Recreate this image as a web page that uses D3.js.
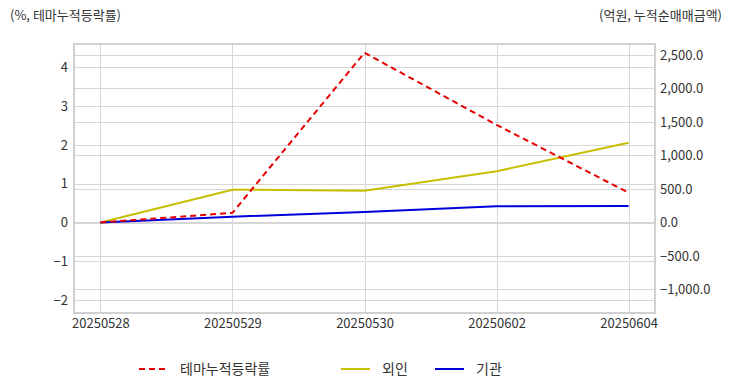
<!DOCTYPE html>
<html><head><meta charset="utf-8">
<script src="https://cdn.jsdelivr.net/npm/d3@7"></script>
<style>
html,body{margin:0;padding:0;background:#fff;}
text{font-family:"Noto Sans CJK KR","Noto Sans",sans-serif;}
</style></head>
<body><svg id="c" width="732" height="392"></svg>
<script>
const categories = ["20250528","20250529","20250530","20250602","20250604"];
const themeRate = [0, 0.25, 4.38, 2.52, 0.77];
const foreign = [0, 490, 475, 764, 1191];
const institution = [0, 87, 157, 242, 246];
const leftTicks = [-2,-1,0,1,2,3,4];
const rightTicks = [-1000,-500,0,500,1000,1500,2000,2500];
const seriesNames = ["테마누적등락률","외인","기관"];

const svg = d3.select("#c");
const L = 74, R = 655, T = 44, B = 313;
const x = d3.scalePoint().domain(categories).range([L, R]).padding(0.2);
const yL = d3.scaleLinear().domain([-2.335, 4.606]).range([B, T]);
const yR = d3.scaleLinear().domain([-1351, 2664]).range([B, T]);

const grid = svg.append("g").attr("stroke", "#d6d6d6").attr("stroke-width", 1);
leftTicks.forEach(v => grid.append("line").attr("x1", L).attr("x2", R).attr("y1", Math.round(yL(v))+0.5).attr("y2", Math.round(yL(v))+0.5));
rightTicks.forEach(v => grid.append("line").attr("x1", L).attr("x2", R).attr("y1", Math.round(yR(v))+0.5).attr("y2", Math.round(yR(v))+0.5));
categories.forEach(c => grid.append("line").attr("y1", T).attr("y2", B).attr("x1", Math.round(x(c))+0.5).attr("x2", Math.round(x(c))+0.5));
svg.append("rect").attr("x", L).attr("y", T).attr("width", R-L).attr("height", B-T)
  .attr("fill", "none").attr("stroke", "#d0d0d0").attr("stroke-width", 2);

const axL = svg.append("g").attr("transform", `translate(${L},0)`)
  .call(d3.axisLeft(yL).tickValues(leftTicks).tickSize(0).tickPadding(6).tickFormat(d3.format("d")));
const axR = svg.append("g").attr("transform", `translate(${R},0)`)
  .call(d3.axisRight(yR).tickValues(rightTicks).tickSize(0).tickPadding(5).tickFormat(d3.format(",.1f")));
const axB = svg.append("g").attr("transform", `translate(0,${B})`)
  .call(d3.axisBottom(x).tickSize(0).tickPadding(6));
[axL, axR, axB].forEach(a => {
  a.select(".domain").remove();
  a.selectAll("text").attr("font-size", 13).attr("fill", "#333")
    .attr("font-family", '"Noto Sans CJK KR","Noto Sans",sans-serif');
});

const lineL = d3.line().x((d,i) => x(categories[i])).y(d => yL(d));
const lineR = d3.line().x((d,i) => x(categories[i])).y(d => yR(d));
svg.append("path").attr("d", lineR(foreign)).attr("fill","none").attr("stroke","#c8be00").attr("stroke-width",2);
svg.append("path").attr("d", lineR(institution)).attr("fill","none").attr("stroke","#0000dd").attr("stroke-width",2);
svg.append("path").attr("d", lineL(themeRate)).attr("fill","none").attr("stroke","#e60000").attr("stroke-width",2).attr("stroke-dasharray","6,4");

svg.append("text").attr("x", 10).attr("y", 20).attr("font-size", 13).attr("fill","#333").text("(%, 테마누적등락률)");
svg.append("text").attr("x", 722).attr("y", 20).attr("text-anchor","end").attr("font-size", 13).attr("fill","#333").text("(억원, 누적순매매금액)");

const legend = [
  {name: seriesNames[0], color: "#e60000", dash: "6,4", x: 139},
  {name: seriesNames[1], color: "#c8be00", dash: null, x: 341},
  {name: seriesNames[2], color: "#0000dd", dash: null, x: 435}
];
const lg = svg.append("g");
legend.forEach(d => {
  lg.append("line").attr("x1", d.x).attr("x2", d.x+29).attr("y1", 369).attr("y2", 369)
    .attr("stroke", d.color).attr("stroke-width", 2).attr("stroke-dasharray", d.dash);
  lg.append("text").attr("x", d.x+41).attr("y", 374).attr("font-size", 14).attr("fill","#333").text(d.name);
});
</script></body></html>
